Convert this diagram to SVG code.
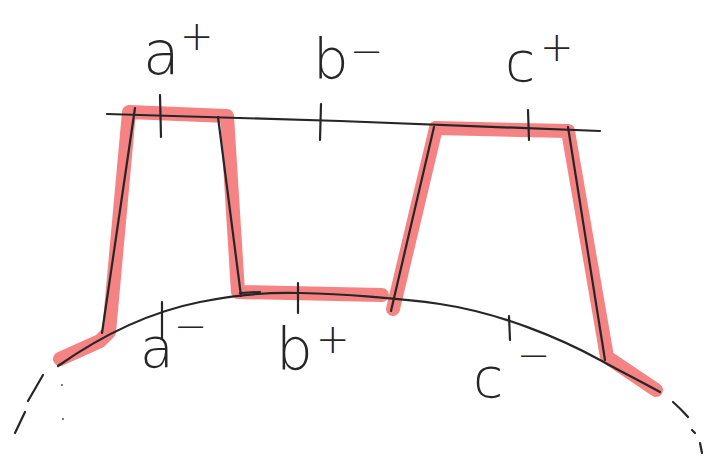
<svg xmlns="http://www.w3.org/2000/svg" width="705" height="460" viewBox="0 0 705 460">
<style>
.hl{fill:none;stroke:#f47878;stroke-width:14;stroke-linecap:round;stroke-linejoin:round;opacity:0.92}
.pen{fill:none;stroke:#262626;stroke-width:2.2;stroke-linecap:round;stroke-linejoin:round}
.lbl{font-family:"DejaVu Sans",sans-serif;font-weight:200;fill:#262626}
.sup{font-family:"DejaVu Sans",sans-serif;font-weight:200;fill:#262626;font-size:40px}
</style>
<rect width="705" height="460" fill="#ffffff"/>
<g id="highlight">
<path class="hl" d="M60,359 L100,341 L109,332 L129,112 L227,116 L238,292 L382,295 M393,309 L436,128 L568,131 L607,357 L656,390"/>
</g>
<g id="lines">
<path class="pen" d="M107,114 L340,121 L600,131"/>
<path class="pen" d="M58,366 C95,340 145,313 200,302 C240,294 270,292 300,293 C340,294 400,298 440,304 C500,313 560,338 600,360 C620,371 640,381 660,392"/>
<path class="pen" d="M135,108 L102,333"/>
<path class="pen" d="M218,117 L241,296"/>
<path class="pen" d="M240,293 L260,292"/>
<path class="pen" d="M391,311 L434,127"/>
<path class="pen" d="M568,127 L605,360"/>
<path class="pen" d="M160,95 L161,137"/>
<path class="pen" d="M321,104 L320,140"/>
<path class="pen" d="M528,110 L529,140"/>
<path class="pen" d="M162,302 L162,339"/>
<path class="pen" d="M298,283 L298,313"/>
<path class="pen" d="M509,316 L510,340"/>
<path class="pen" d="M43,375 L28,401"/>
<path class="pen" d="M25,412 L15,433"/>
<path class="pen" d="M673,402 Q682,410 688,417"/>
<path class="pen" d="M692,430 L695,433"/>
<path class="pen" d="M700,443 L702,453"/>
<circle cx="62" cy="385" r="1" fill="#555"/>
<circle cx="63" cy="419" r="1" fill="#555"/>
</g>
<g id="labels">
<text class="lbl" x="143" y="74" font-size="60">a</text>
<text class="sup" x="180" y="50">+</text>
<text class="lbl" x="313" y="78" font-size="56">b</text>
<text class="sup" x="350" y="65" font-size="26">−</text>
<text class="lbl" x="505" y="81" font-size="55">c</text>
<text class="sup" x="540" y="61">+</text>
<text class="lbl" x="140" y="367" font-size="55">a</text>
<text class="sup" x="174" y="340" font-size="26">−</text>
<text class="lbl" x="276" y="370" font-size="58">b</text>
<text class="sup" x="316" y="353">+</text>
<text class="lbl" x="473" y="397" font-size="55">c</text>
<text class="sup" x="517" y="369" font-size="26">−</text>
</g>
</svg>
